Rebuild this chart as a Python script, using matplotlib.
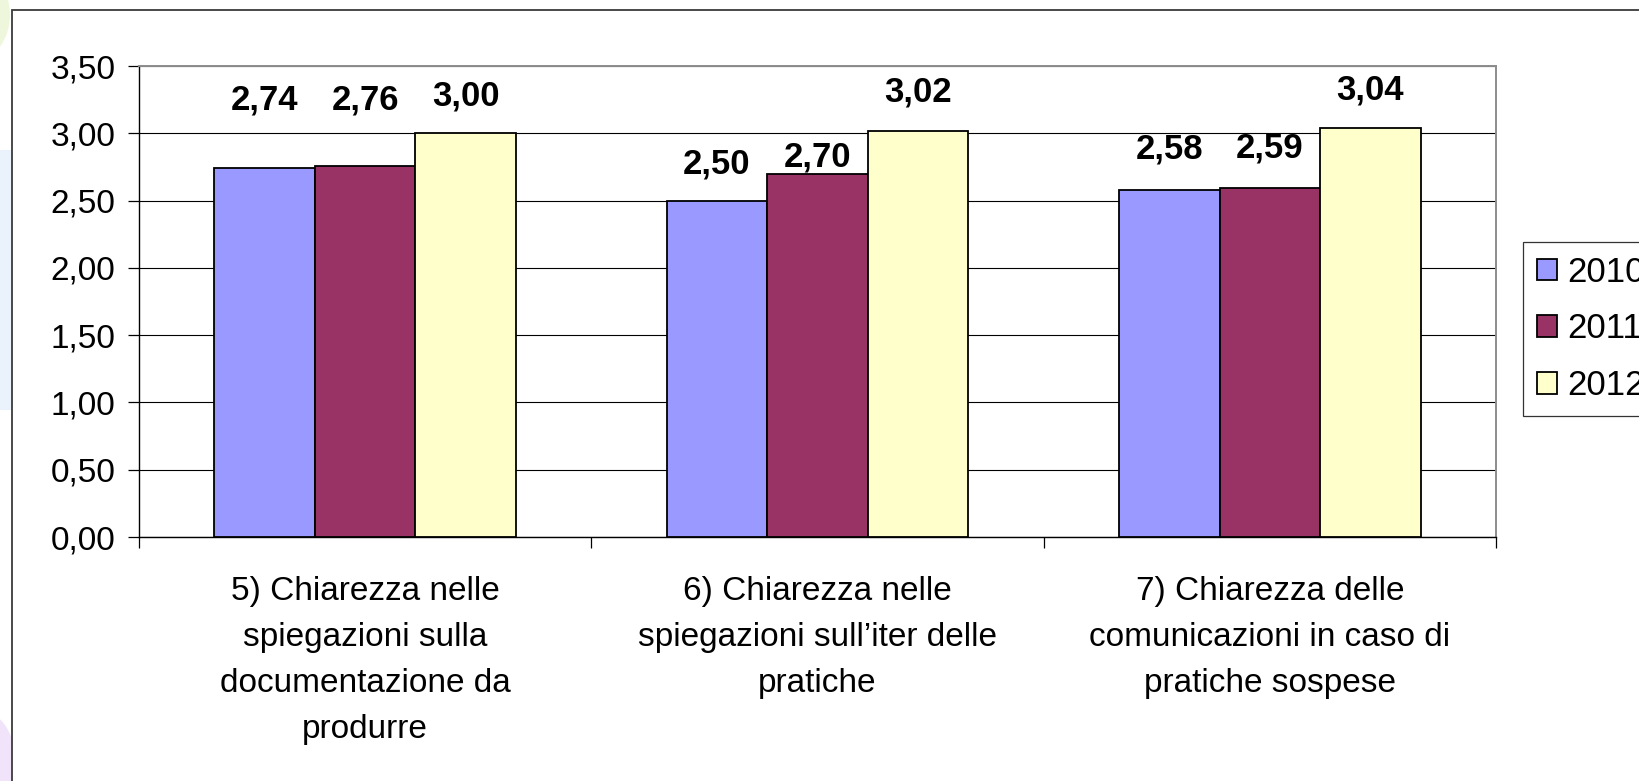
import matplotlib
matplotlib.use("Agg")
import matplotlib.pyplot as plt
from matplotlib.patches import Rectangle, Ellipse
import numpy as np

plt.rcParams['font.family'] = ['Liberation Sans', 'DejaVu Sans']

# --- data -------------------------------------------------------------
categories = [
    "5) Chiarezza nelle\nspiegazioni sulla\ndocumentazione da\nprodurre",
    "6) Chiarezza nelle\nspiegazioni sull\u2019iter delle\npratiche",
    "7) Chiarezza delle\ncomunicazioni in caso di\npratiche sospese",
]
years = ["2010", "2011", "2012"]
values_2010 = [2.74, 2.50, 2.58]
values_2011 = [2.76, 2.70, 2.59]
values_2012 = [3.00, 3.02, 3.04]
y_ticks = [0.0, 0.5, 1.0, 1.5, 2.0, 2.5, 3.0, 3.5]

# --- styling ----------------------------------------------------------
colors = ["#9999FF", "#993366", "#FFFFCC"]
# vertical lift (pixels) of each value label above its bar, per series
label_lift_px = [
    [68, 37, 41],
    [66, 17, 40],
    [37, 39, 38],
]

W, H, DPI = 1639, 781, 100
fig = plt.figure(figsize=(W / DPI, H / DPI), dpi=DPI)
fig.patch.set_facecolor("white")

def fx(px):
    return px / W

def fy(py):
    return 1 - py / H

# faint slide decoration peeking in at the left edge
fig.patches.append(Ellipse((fx(-25), fy(15)), fx(70), 90 / H, transform=fig.transFigure,
                           facecolor="#EEF7DC", edgecolor="none", zorder=0))
fig.patches.append(Rectangle((0, fy(410)), fx(12), 260 / H, transform=fig.transFigure,
                             facecolor="#EAF2FB", edgecolor="none", zorder=0))
fig.patches.append(Ellipse((fx(-10), fy(790)), fx(60), 150 / H, transform=fig.transFigure,
                           facecolor="#F1E4FA", edgecolor="none", zorder=0))

# chart frame (runs off the right and bottom edges)
fig.patches.append(Rectangle((fx(12), fy(900)), fx(1700), 890 / H, transform=fig.transFigure,
                             facecolor="white", edgecolor="#3a3a3a", linewidth=1.3, zorder=1))

ax = fig.add_axes([fx(139), fy(537), fx(1496 - 139), (537 - 66) / H])
ax.set_zorder(2)
ax.set_facecolor("white")

x = np.arange(len(categories))
bw = 1 / 4.5
series = [values_2010, values_2011, values_2012]
for i, (vals, col, yr) in enumerate(zip(series, colors, years)):
    pos = x + (i - 1) * bw
    ax.bar(pos, vals, width=bw, color=col, edgecolor="black", linewidth=1.3,
           label=yr, zorder=3)
    for j, (xp, v) in enumerate(zip(pos, vals)):
        ax.annotate(f"{v:.2f}".replace(".", ","), xy=(xp, v),
                    xytext=(0, label_lift_px[i][j]), textcoords="offset pixels",
                    ha="center", va="center", fontsize=25, fontweight="bold",
                    zorder=4)

ax.set_xlim(-0.5, len(categories) - 0.5)
ax.set_ylim(0, 3.5)
ax.set_yticks(y_ticks)
ax.set_yticklabels([f"{t:.2f}".replace(".", ",") for t in y_ticks], fontsize=24)
ax.yaxis.grid(True, color="black", linewidth=0.8, zorder=1)
ax.set_axisbelow(True)
ax.tick_params(axis="y", direction="out", length=8, width=0.9, pad=9, color="black")

ax.set_xticks(x)
ax.set_xticklabels(categories, fontsize=24, linespacing=1.62)
ax.tick_params(axis="x", which="major", length=0, pad=28)
ax.set_xticks(np.arange(-0.5, len(categories)), minor=True)
ax.tick_params(axis="x", which="minor", direction="out", length=8, width=0.9, color="black")

for side in ("top", "right"):
    ax.spines[side].set_color("#8c8c8c")
    ax.spines[side].set_linewidth(1.4)
ax.spines["left"].set_color("black")
ax.spines["left"].set_linewidth(1.0)
ax.spines["bottom"].set_color("black")
ax.spines["bottom"].set_linewidth(1.0)

leg = fig.legend(loc="upper left", bbox_to_anchor=(fx(1523), fy(242)),
                 bbox_transform=fig.transFigure, fontsize=25, frameon=True,
                 fancybox=False, edgecolor="black", borderaxespad=0,
                 handlelength=0.58, handleheight=0.58, handletextpad=0.3,
                 labelspacing=0.68, borderpad=0.4)
leg.get_frame().set_linewidth(0.9)
for h in leg.legend_handles:
    h.set_linewidth(1.3)

fig.savefig("out.png", dpi=DPI)
